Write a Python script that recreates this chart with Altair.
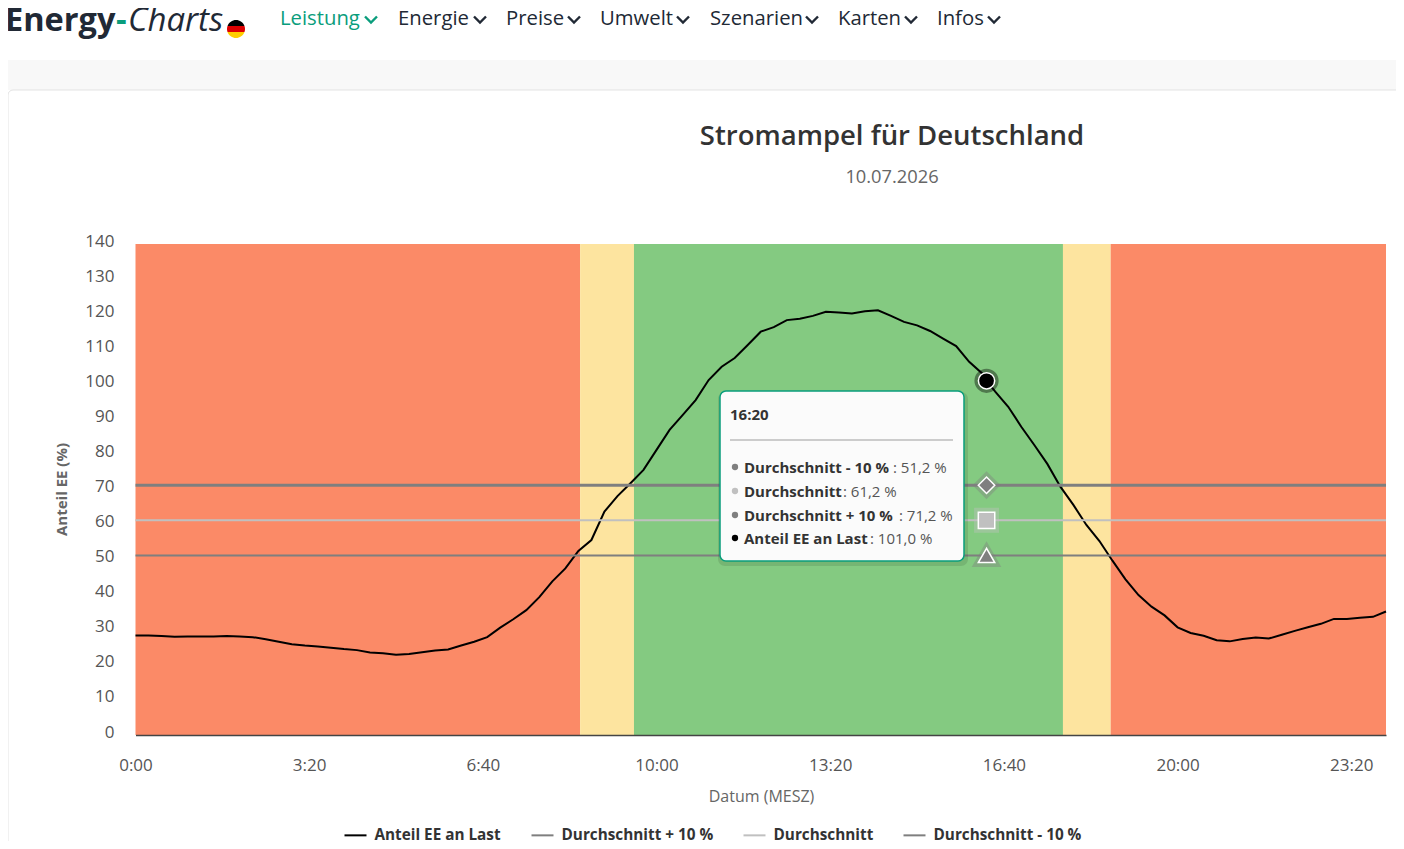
import altair as alt
import pandas as pd

PAGE_X, PAGE_Y = 135.5, 244.0
W, H = 1250.5, 491.0
FONT = "Open Sans"

# ---- data
step_minutes = [i * 15 for i in range(97)]
share = [
    28.4, 28.4, 28.2, 28.0, 28.1, 28.1, 28.1, 28.2, 28.1, 27.9, 27.3, 26.6, 25.9, 25.5, 25.2, 24.9,
    24.5, 24.2, 23.5, 23.3, 22.9, 23.1, 23.6, 24.1, 24.4, 25.5, 26.6, 27.9, 30.6, 33.0, 35.6, 39.3,
    43.8, 47.5, 52.5, 55.6, 63.7, 68.1, 71.8, 75.6, 81.3, 87.0, 91.2, 95.5, 101.2, 105.0, 107.5, 111.2,
    115.0, 116.3, 118.3, 118.7, 119.5, 120.7, 120.5, 120.2, 120.8, 121.1, 119.5, 117.8, 116.8, 115.2, 113.0, 110.9,
    106.4, 103.1, 97.9, 93.6, 87.9, 82.7, 77.3, 70.8, 65.6, 59.9, 55.3, 49.7, 44.4, 39.9, 36.6, 34.1,
    30.7, 29.1, 28.3, 27.0, 26.7, 27.4, 27.8, 27.5, 28.6, 29.7, 30.7, 31.7, 33.1, 33.1, 33.4, 33.7, 35.2,
]
avg_plus = 71.2
avg_mid = 61.2
avg_minus = 51.2
hover_minute = 980
hover_share = 101.0

band_start = [0, 512, 574, 1068, 1123]
band_end = [512, 574, 1068, 1123, 1440]
band_color = ["#FB8A67", "#FDE49F", "#84CA81", "#FDE49F", "#FB8A67"]

x_ticks = [0, 200, 400, 600, 800, 1000, 1200, 1400]
y_ticks = list(range(0, 141, 10))

series_names = ["Anteil EE an Last", "Durchschnitt + 10 %", "Durchschnitt", "Durchschnitt - 10 %"]
series_colors = ["#000000", "#7f7f7f", "#c0c0c0", "#7f7f7f"]
series_widths = [2, 3, 2, 2]

marker_values = [hover_share, avg_plus, avg_mid, avg_minus]
marker_shapes = ["circle", "diamond", "square", "triangle-up"]
marker_colors = ["#000000", "#7f7f7f", "#c0c0c0", "#7f7f7f"]
marker_sizes = [265, 270, 270, 270]
halo_sizes = [370, 440, 400, 440]

nav_items = [("Leistung", 280, 371, "#0a9d7c"), ("Energie", 398, 480, "#212935"), ("Preise", 506, 574, "#212935"),
             ("Umwelt", 600, 683, "#212935"), ("Szenarien", 710, 812, "#212935"), ("Karten", 838, 911, "#212935"),
             ("Infos", 937, 994, "#212935")]

# ---- tables
rows = []
for t, v in zip(step_minutes, share):
    rows.append({"t": t, "v": v, "series": series_names[0], "w": series_widths[0]})
rows.append({"t": hover_minute, "v": hover_share, "series": series_names[0], "w": series_widths[0]})
for t in (0, 1440):
    rows.append({"t": t, "v": avg_plus, "series": series_names[1], "w": series_widths[1]})
    rows.append({"t": t, "v": avg_mid, "series": series_names[2], "w": series_widths[2]})
    rows.append({"t": t, "v": avg_minus, "series": series_names[3], "w": series_widths[3]})
lines_df = pd.DataFrame(rows)
bands_df = pd.DataFrame({"t": band_start, "b": band_end, "c": band_color})

x_enc = alt.X("t:Q", scale=alt.Scale(domain=[0, 1440], nice=False), axis=alt.Axis(
    values=x_ticks, labelExpr="floor(datum.value/60)+':'+(datum.value%60<10?'0':'')+(datum.value%60)",
    grid=False, ticks=False, domainColor="#444444", domainWidth=1.5, labelPadding=22, labelFontSize=17,
    labelFont=FONT, labelColor="#555555", labelFlush=False, labelOverlap=False, zindex=1,
    title="Datum (MESZ)", titleFont=FONT, titleFontSize=16, titleFontWeight="normal", titleColor="#666666",
    titleX=625.5, titleY=61, titleBaseline="middle"))
y_enc = alt.Y("v:Q", scale=alt.Scale(domain=[0, 140], nice=False), axis=alt.Axis(
    values=y_ticks, grid=False, ticks=False, domain=False, labelPadding=21.5, labelFontSize=17, labelFont=FONT,
    labelColor="#555555", labelOffset=-3, labelOverlap=False, zindex=1, title="Anteil EE (%)", titleFont=FONT,
    titleFontSize=15, titleFontWeight="bold", titleColor="#666666", titleX=-74.5, titleY=245, titleBaseline="middle"))


def text(s, x, y, size, color="#333333", weight="normal", style="normal", align="left"):
    return alt.Chart().mark_text(text=s, font=FONT, fontSize=size, color=color, fontWeight=weight, fontStyle=style,
                                 align=align, baseline="middle").encode(
        x=alt.value(x - PAGE_X), y=alt.value(y - PAGE_Y))


def box(x0, y0, x1, y1, **kw):
    return alt.Chart().mark_rect(**kw).encode(
        x=alt.value(x0 - PAGE_X), x2=alt.value(x1 - PAGE_X), y=alt.value(y0 - PAGE_Y), y2=alt.value(y1 - PAGE_Y))


def glyph(path, x, y, size, **kw):
    return alt.Chart().mark_point(shape=path, size=size, **kw).encode(
        x=alt.value(x - PAGE_X), y=alt.value(y - PAGE_Y))


layers = [
    box(0, 60, 1410, 90, fill="#f8f8f8"),
    box(8, 90, 1420, 900, fill="#ffffff", stroke="#e3e3e3", strokeWidth=1, cornerRadius=5),
    text("Energy", 5, 21, 32.5, "#212935", "bold"),
    text("-", 116, 21, 33, "#0a9d7c", "bold"),
    text("Charts", 128, 21, 33, "#212935", "normal", "italic"),
    glyph("M -0.943 -0.333 A 1 1 0 0 1 0.943 -0.333 Z", 236, 29, 324, filled=True, fill="#000000", stroke=None, opacity=1),
    glyph("M -0.943 -0.333 L 0.943 -0.333 A 1 1 0 0 1 0.943 0.333 L -0.943 0.333 A 1 1 0 0 1 -0.943 -0.333 Z",
          236, 29, 324, filled=True, fill="#DD0000", stroke=None, opacity=1),
    glyph("M 0.943 0.333 A 1 1 0 0 1 -0.943 0.333 Z", 236, 29, 324, filled=True, fill="#FFCE00", stroke=None, opacity=1),
    text("Stromampel für Deutschland", 892, 137, 27.5, "#333333", 600, align="center"),
    text("10.07.2026", 892, 177.5, 18.3, "#666666", align="center"),
]
for label, lx, cx, col in nav_items:
    layers.append(text(label, lx, 19, 20.3, col))
    layers.append(glyph("M -1 -0.5 L 0 0.5 L 1 -0.5", cx, 19.5, 144, filled=False, stroke=col, strokeWidth=2.4, opacity=1))

layers.append(alt.Chart(bands_df).mark_rect().encode(x=x_enc, x2="b:Q", fill=alt.Fill("c:N", scale=None)))
layers.append(alt.Chart(lines_df).mark_line(interpolate="linear", clip=False).encode(
    x=x_enc, y=y_enc, order="t:Q",
    stroke=alt.Stroke("series:N", sort=series_names,
                      scale=alt.Scale(domain=series_names, range=series_colors),
                      legend=alt.Legend(orient="none", legendX=208, legendY=579, direction="horizontal", columns=4,
                                        title=None, symbolType="stroke", symbolSize=484, symbolStrokeWidth=2,
                                        labelFont=FONT, labelFontSize=15.3, labelFontWeight="bold",
                                        labelColor="#333333", columnPadding=26, labelOffset=7)),
    strokeWidth=alt.StrokeWidth("w:Q", scale=None, legend=None),
))
for val, shp, col, size, halo in zip(marker_values, marker_shapes, marker_colors, marker_sizes, halo_sizes):
    row = pd.DataFrame({"t": [hover_minute], "v": [val]})
    layers.append(alt.Chart(row).mark_point(shape=shp, size=halo, filled=False, stroke=col, strokeWidth=5,
                                            strokeOpacity=0.4, opacity=1).encode(x=x_enc, y=y_enc))
    layers.append(alt.Chart(row).mark_point(shape=shp, size=size, filled=True, fill=col, stroke="#ffffff",
                                            strokeWidth=1.5, opacity=1).encode(x=x_enc, y=y_enc))

# tooltip
layers += [
    box(718, 392, 968, 566, fill="#000000", opacity=0.10, cornerRadius=7),
    box(720, 391, 964, 561, fill="#fbfbfb", stroke="#0a9d7c", strokeWidth=1.5, cornerRadius=6),
    text("16:20", 730, 415, 15, "#333333", "bold"),
    box(730, 439, 953, 441, fill="#cccccc"),
]
tip_rows = [("Durchschnitt - 10 %", ": 51,2 %", 468, 893, "#7f7f7f"),
            ("Durchschnitt", ": 61,2 %", 492, 843, "#c0c0c0"),
            ("Durchschnitt + 10 %", ": 71,2 %", 516, 899, "#7f7f7f"),
            ("Anteil EE an Last", ": 101,0 %", 539, 870, "#000000")]
for name, val, y, vx, col in tip_rows:
    layers.append(alt.Chart().mark_point(shape="circle", size=40, filled=True, fill=col, stroke=None, opacity=1).encode(
        x=alt.value(735 - PAGE_X), y=alt.value(y - 1 - PAGE_Y)))
    layers.append(text(name, 744, y, 15, "#333333", "bold"))
    layers.append(text(val, vx, y, 15, "#555555"))

chart = alt.layer(*layers).properties(
    width=W, height=H,
    padding={"left": PAGE_X - 8, "top": PAGE_Y - 8, "right": 1388 - (PAGE_X - 8) - W, "bottom": 833 - (PAGE_Y - 8) - H},
    autosize=alt.AutoSizeParams(type="none"),
).configure_view(stroke=None)

chart.save("out.html", embed_options={"renderer": "svg", "actions": False})
